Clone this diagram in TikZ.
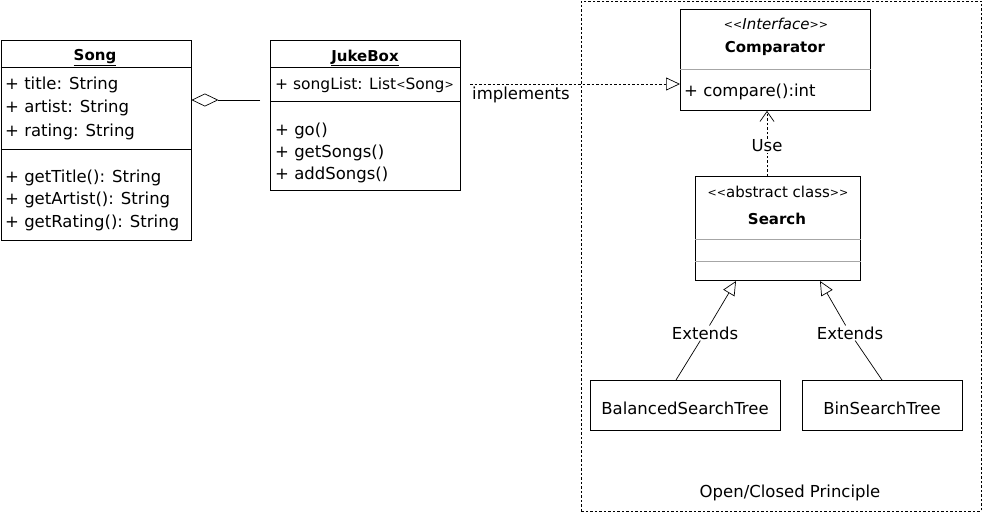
\documentclass[tikz,border=0pt]{standalone}
\usepackage{fontspec}
\setmainfont{DejaVu Sans}
\usetikzlibrary{arrows.meta}
\newcommand{\sang}[1]{{\fontsize{11}{12}\selectfont\raisebox{0.15ex}{#1}}}
\begin{document}
\begin{tikzpicture}[x=1pt,y=-1pt,
  font=\fontsize{16.5}{18}\selectfont,
  box/.style={draw, line width=0.9pt, inner sep=0pt, anchor=north west},
  txt/.style={inner sep=0pt, anchor=west},
  ttl/.style={inner sep=0pt, font=\fontsize{15}{17}\selectfont\bfseries},
  divider/.style={line width=0.9pt},
  gdivider/.style={line width=0.9pt, draw=gray!70},
  lbl/.style={inner sep=1pt},
  conn/.style={line width=0.7pt},
  dconn/.style={line width=0.7pt, dash pattern=on 2.5pt off 2pt}]
\useasboundingbox (0,0) rectangle (982,512);

% frame
\node[draw, line width=0.7pt, dash pattern=on 2.5pt off 2pt, inner sep=0pt, anchor=north west,
  minimum width=400pt, minimum height=510pt] (frame) at (581,0.6) {};
\node[lbl] (ocp) at (790,493) {Open/Closed Principle};

% Song
\node[box, minimum width=190pt, minimum height=200pt] (song) at (0.5,40) {};
\node[ttl] (songt) at (95,58) {\underline{Song}};
\draw[divider] (song.west |- 0,67) -- (song.east |- 0,67);
\node[txt] (s1) at (5,85) {+ title: String};
\node[txt] (s2) at (5,108) {+ artist: String};
\node[txt] (s3) at (5,132) {+ rating: String};
\draw[divider] (song.west |- 0,149) -- (song.east |- 0,149);
\node[txt] (s4) at (5,178) {+ getTitle(): String};
\node[txt] (s5) at (5,200) {+ getArtist(): String};
\node[txt] (s6) at (5,223) {+ getRating(): String};

% JukeBox
\node[box, minimum width=190pt, minimum height=150pt] (juke) at (270,40) {};
\node[ttl] (jukt) at (365,58) {\underline{JukeBox}};
\draw[divider] (juke.west |- 0,67) -- (juke.east |- 0,67);
\node[txt, font=\fontsize{15.5}{17}\selectfont] (j1) at (275,85) {+ songList: List\sang{<}Song\sang{>}};
\draw[divider] (juke.west |- 0,101) -- (juke.east |- 0,101);
\node[txt] (j2) at (275,131) {+ go()};
\node[txt] (j3) at (275,153) {+ getSongs()};
\node[txt] (j4) at (275,175) {+ addSongs()};

% Comparator
\node[box, minimum width=190pt, minimum height=101pt] (comp) at (680,9) {};
\node[inner sep=0pt, font=\fontsize{15}{16}\selectfont\itshape] (compst) at (776,24) {\sang{<{}<}Interface\sang{>{}>}};
\node[ttl] (compt) at (775,48) {Comparator};
\draw[gdivider] (comp.west |- 0,69) -- (comp.east |- 0,69);
\node[txt] (c1) at (684,92) {+ compare():int};

% Search
\node[box, minimum width=165pt, minimum height=104pt] (search) at (695,176) {};
\node[inner sep=0pt, font=\fontsize{15}{16}\selectfont] (searchst) at (778,192) {\sang{<{}<}abstract class\sang{>{}>}};
\node[ttl] (searcht) at (777,219) {Search};
\draw[gdivider] (search.west |- 0,239) -- (search.east |- 0,239);
\draw[gdivider] (search.west |- 0,261) -- (search.east |- 0,261);

% Leaves
\node[box, minimum width=190pt, minimum height=50pt] (bst) at (590,380) {};
\node[inner sep=0pt] (bstt) at (685,408) {BalancedSearchTree};
\node[box, minimum width=160pt, minimum height=50pt] (bin) at (802,380) {};
\node[inner sep=0pt] (bint) at (882,408) {BinSearchTree};

% aggregation
\coordinate (aggend) at (260,100);
\draw[conn, -{Diamond[open, length=27pt, width=13pt]}] (aggend) -- (song.east |- aggend);

% implements
\coordinate (implstart) at (470,84);
\draw[dconn, -{Triangle[open, length=14pt, width=13pt]}] (implstart) -- (comp.west |- implstart);
\node[lbl] (impl) at (521,95) {implements};

% use
\node[lbl] (use) at (767,146) {Use};
\draw[dconn] (search.north -| use) -- (use);
\draw[dconn, -{Straight Barb[length=10pt, width=14pt]}] (use) -- (comp.south -| use);

% extends
\node[lbl] (ext1) at (705,333) {Extends};
\node[lbl] (ext2) at (850,333) {Extends};
\coordinate (b1) at (676,380);
\coordinate (t1) at (736,281);
\coordinate (b2) at (882,380);
\coordinate (t2) at (820,281);
\draw[conn] (b1) -- (ext1);
\draw[conn, -{Triangle[open, length=14pt, width=13pt]}] (ext1) -- (t1);
\draw[conn] (b2) -- (ext2);
\draw[conn, -{Triangle[open, length=14pt, width=13pt]}] (ext2) -- (t2);
\end{tikzpicture}
\end{document}
